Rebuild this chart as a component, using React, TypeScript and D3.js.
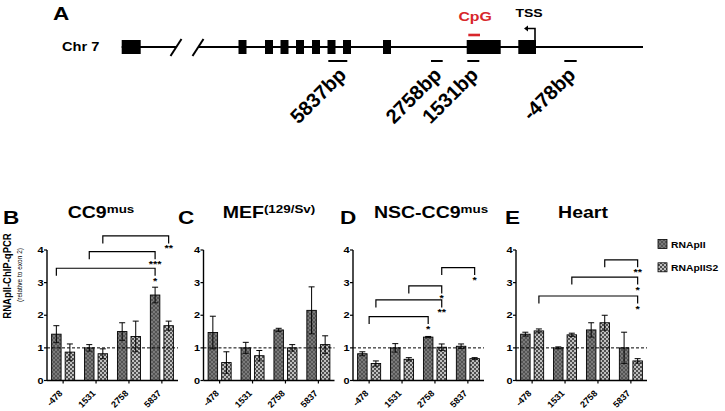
import * as d3 from 'd3';

const W = 725;
const H = 411;
const FONT = '"Liberation Sans", Arial, Helvetica, sans-serif';
// the source figure is stretched horizontally, so upright text is too
const SX = 1.22;

const sites = ['-478', '1531', '2758', '5837'];
const seriesNames = ['RNApII', 'RNApIIS2'];

// B: CC9mus
const ccPol = [1.42, 1.0, 1.5, 2.62];
const ccPolErr = [0.26, 0.1, 0.27, 0.24];
const ccS2 = [0.87, 0.82, 1.35, 1.68];
const ccS2Err = [0.25, 0.15, 0.47, 0.14];

// C: MEF(129/Sv)
const mefPol = [1.47, 1.0, 1.55, 2.15];
const mefPolErr = [0.5, 0.17, 0.05, 0.72];
const mefS2 = [0.55, 0.76, 1.0, 1.1];
const mefS2Err = [0.33, 0.16, 0.1, 0.27];

// D: NSC-CC9mus
const nscPol = [0.82, 1.0, 1.33, 1.05];
const nscPolErr = [0.06, 0.13, 0.02, 0.07];
const nscS2 = [0.52, 0.65, 1.02, 0.67];
const nscS2Err = [0.08, 0.05, 0.1, 0.03];

// E: Heart
const heartPol = [1.42, 1.0, 1.55, 1.0];
const heartPolErr = [0.06, 0.03, 0.22, 0.48];
const heartS2 = [1.52, 1.4, 1.77, 0.6];
const heartS2Err = [0.06, 0.05, 0.23, 0.07];

// significance brackets: [site index, series index (0.5 = group centre)]
type Bracket = { from: [number, number]; to: [number, number]; level: number; mark: string };
const ccBrackets: Bracket[] = [
  { from: [0, 0], to: [3, 0], level: 3.44, mark: '*' },
  { from: [1, 0], to: [3, 0], level: 3.95, mark: '***' },
  { from: [1, 1], to: [3, 1], level: 4.43, mark: '**' },
];
const nscBrackets: Bracket[] = [
  { from: [0, 0.5], to: [2, 0], level: 1.96, mark: '*' },
  { from: [0, 1], to: [2, 1], level: 2.47, mark: '**' },
  { from: [1, 1], to: [2, 1], level: 2.9, mark: '*' },
  { from: [2, 1], to: [3, 1], level: 3.46, mark: '*' },
];
const heartBrackets: Bracket[] = [
  { from: [0, 1], to: [3, 1], level: 2.59, mark: '*' },
  { from: [1, 1], to: [3, 1], level: 3.17, mark: '*' },
  { from: [2, 1], to: [3, 1], level: 3.7, mark: '**' },
];

// panel A schematic, positions in schematic units along the chromosome line
const exons = [
  [1.7, 20.7], [118.5, 126.5], [145, 153], [160.5, 168.5], [176, 184], [192, 200],
  [207.5, 215.5], [223, 231], [263, 271], [346.7, 380.7], [398.3, 416],
];
const lineSegments = [[1.7, 56], [78, 523]];
const breaks = [56, 78];
const primers = [
  { name: '5837bp', start: 208.3, end: 227.3 },
  { name: '2758bp', start: 311, end: 322.7 },
  { name: '1531bp', start: 347.3, end: 359.3 },
  { name: '-478bp', start: 444.3, end: 456.7 },
];
const cpg = [348.3, 360];
const tss = 415;

const panels = [
  { letter: 'B', lx: 3, title: 'CC9', sup: 'mus', tx: 101, left: 47, pol: ccPol, polErr: ccPolErr, s2: ccS2, s2Err: ccS2Err, brackets: ccBrackets },
  { letter: 'C', lx: 178, title: 'MEF', sup: '(129/Sv)', tx: 269, left: 203.5, pol: mefPol, polErr: mefPolErr, s2: mefS2, s2Err: mefS2Err, brackets: [] as Bracket[] },
  { letter: 'D', lx: 340, title: 'NSC-CC9', sup: 'mus', tx: 431, left: 353, pol: nscPol, polErr: nscPolErr, s2: nscS2, s2Err: nscS2Err, brackets: nscBrackets },
  { letter: 'E', lx: 505, title: 'Heart', sup: '', tx: 583, left: 516, pol: heartPol, polErr: heartPolErr, s2: heartS2, s2Err: heartS2Err, brackets: heartBrackets },
];

// upright text, stretched horizontally like the source
const T = ({ x, y, size, anchor = 'start', fill = '#000', weight = 'bold', children }: any) => (
  <text
    transform={`translate(${x},${y}) scale(${SX},1)`}
    fontSize={size}
    textAnchor={anchor}
    fill={fill}
    fontWeight={weight}
    fontFamily={FONT}
  >
    {children}
  </text>
);

// rotated text, no stretch
const R = ({ x, y, size, rot, anchor = 'end', weight = 'bold', children }: any) => (
  <text
    transform={`translate(${x},${y}) rotate(${rot})`}
    fontSize={size}
    textAnchor={anchor}
    fontWeight={weight}
    fontFamily={FONT}
    fill="#000"
  >
    {children}
  </text>
);

const y = d3.scaleLinear().domain([0, 4]).range([380.5, 250]);
const plotW = 131;

const Panel = ({ p }: any) => {
  const x = d3.scaleBand().domain(sites).range([p.left, p.left + plotW]).paddingInner(0.3).paddingOuter(0.14);
  const xs = d3.scaleBand().domain(['0', '1']).range([0, x.bandwidth()]).paddingInner(0.3);
  const barX = (i: number, s: number) => {
    if (s === 0.5) return x(sites[i])! + x.bandwidth() / 2;
    return x(sites[i])! + xs(String(s))! + xs.bandwidth() / 2;
  };
  const series = [
    { vals: p.pol, errs: p.polErr, fill: 'url(#polFill)' },
    { vals: p.s2, errs: p.s2Err, fill: 'url(#s2Fill)' },
  ];
  const y0 = y(0);
  const cap = 3;
  return (
    <g>
      <T x={p.lx} y={224} size={18.5}>{p.letter}</T>
      <T x={p.tx} y={218} size={16} anchor="middle">
        {p.title}
        {p.sup && <tspan fontSize={11} dy={-5}>{p.sup}</tspan>}
      </T>
      {series.map((s, si) =>
        sites.map((site, i) => {
          const bx = x(site)! + xs(String(si))!;
          const v = s.vals[i];
          const e = s.errs[i];
          const cx = bx + xs.bandwidth() / 2;
          return (
            <g key={`${si}-${site}`}>
              <rect x={bx} y={y(v)} width={xs.bandwidth()} height={y0 - y(v)} fill={s.fill} stroke="#000" strokeWidth={0.9} />
              <line x1={cx} x2={cx} y1={y(v - e)} y2={y(v + e)} stroke="#000" strokeWidth={1} />
              <line x1={cx - cap} x2={cx + cap} y1={y(v + e)} y2={y(v + e)} stroke="#000" strokeWidth={1} />
              <line x1={cx - cap} x2={cx + cap} y1={y(v - e)} y2={y(v - e)} stroke="#000" strokeWidth={0.8} />
            </g>
          );
        })
      )}
      <line x1={p.left} x2={p.left + plotW} y1={y(1)} y2={y(1)} stroke="#000" strokeWidth={1} strokeDasharray="3,2" />
      <line x1={p.left} x2={p.left} y1={y(4)} y2={y0} stroke="#000" strokeWidth={1.4} />
      <line x1={p.left} x2={p.left + plotW} y1={y0} y2={y0} stroke="#000" strokeWidth={1.4} />
      {y.ticks(4).map((t) => (
        <g key={t}>
          <line x1={p.left - 3} x2={p.left} y1={y(t)} y2={y(t)} stroke="#000" strokeWidth={1.2} />
          <T x={p.left - 3.5} y={y(t) + 3.2} size={9} anchor="end">{t}</T>
        </g>
      ))}
      {sites.map((site) => {
        const cx = x(site)! + x.bandwidth() / 2;
        return (
          <g key={site}>
            <line x1={cx} x2={cx} y1={y0} y2={y0 + 3} stroke="#000" strokeWidth={1.2} />
            <R x={cx} y={y0 + 13.5} size={9} rot={-45}>{site}</R>
          </g>
        );
      })}
      {p.brackets.map((b: Bracket, k: number) => {
        const xa = barX(b.from[0], b.from[1]);
        const xb = barX(b.to[0], b.to[1]);
        const yt = y(b.level);
        const leg = yt + 7.5;
        return (
          <g key={k}>
            <path d={`M${xa},${leg}V${yt}H${xb}V${leg}`} fill="none" stroke="#000" strokeWidth={1.2} />
            <T x={xb} y={leg + 8} size={9} anchor="middle">{b.mark}</T>
          </g>
        );
      })}
    </g>
  );
};

export default function App() {
  const sx = d3.scaleLinear().domain([0, 523]).range([120, 643]);
  const lineY = 47;
  return (
    <svg width={W} height={H} style={{ position: 'absolute', left: 0, top: 0, background: '#fff' }}>
      <defs>
        <pattern id="polFill" width={4} height={4} patternUnits="userSpaceOnUse">
          <rect width={4} height={4} fill="#7a7a7a" />
          <path d="M0,0L4,4M4,0L0,4" stroke="#4a4a4a" strokeWidth={0.8} />
        </pattern>
        <pattern id="s2Fill" width={4} height={4} patternUnits="userSpaceOnUse">
          <rect width={4} height={4} fill="#505050" />
          <rect x={0.2} y={0.2} width={1.6} height={1.6} fill="#fff" />
          <rect x={2.2} y={2.2} width={1.6} height={1.6} fill="#fff" />
        </pattern>
      </defs>
      <rect width={W} height={H} fill="#fff" />

      {/* panel A */}
      <T x={53} y={20} size={18.5}>A</T>
      <T x={62} y={51} size={12}>Chr 7</T>
      {lineSegments.map(([a, b], i) => (
        <line key={i} x1={sx(a)} x2={sx(b)} y1={lineY} y2={lineY} stroke="#000" strokeWidth={2} />
      ))}
      {breaks.map((b, i) => (
        <line key={i} x1={sx(b) - 5.5} x2={sx(b) + 5.5} y1={lineY + 9} y2={lineY - 8} stroke="#000" strokeWidth={2} />
      ))}
      {exons.map(([a, b], i) => (
        <rect key={i} x={sx(a)} y={lineY - 7} width={sx(b) - sx(a)} height={14} fill="#000" />
      ))}
      <line x1={sx(cpg[0])} x2={sx(cpg[1])} y1={35} y2={35} stroke="#d8262b" strokeWidth={2.6} />
      <T x={(sx(cpg[0]) + sx(cpg[1])) / 2 + 1} y={21} size={13} anchor="middle" fill="#d8262b">CpG</T>
      <path d={`M${sx(tss)},${lineY - 7}V${28.5}H${sx(tss) - 8}`} fill="none" stroke="#000" strokeWidth={1.6} />
      <path d={`M${sx(tss) - 11},28.5l4,-3v6z`} fill="#000" />
      <T x={sx(tss) - 6} y={17} size={11.5} anchor="middle">TSS</T>
      {primers.map((pr) => (
        <g key={pr.name}>
          <line x1={sx(pr.start)} x2={sx(pr.end)} y1={61} y2={61} stroke="#000" strokeWidth={2} />
          <R x={sx(pr.end)} y={76} size={20} rot={-45}>{pr.name}</R>
        </g>
      ))}

      {/* y axis title */}
      <g transform="translate(11,276) scale(1.22,1) rotate(-90)">
        <text fontSize={9.5} textAnchor="middle" fontWeight="bold" fontFamily={FONT}>RNApII-ChIP-qPCR</text>
      </g>
      <g transform="translate(21.5,275) scale(1.22,1) rotate(-90)">
        <text fontSize={6.5} textAnchor="middle" fontFamily={FONT}>(relative to exon 2)</text>
      </g>

      {panels.map((p) => (
        <Panel key={p.letter} p={p} />
      ))}

      {/* legend */}
      {seriesNames.map((n, i) => (
        <g key={n}>
          <rect x={658} y={239.5 + i * 23.3} width={9} height={9} fill={i === 0 ? 'url(#polFill)' : 'url(#s2Fill)'} stroke="#000" strokeWidth={0.8} />
          <T x={671} y={247.5 + i * 23.3} size={8.5}>{n}</T>
        </g>
      ))}
    </svg>
  );
}
